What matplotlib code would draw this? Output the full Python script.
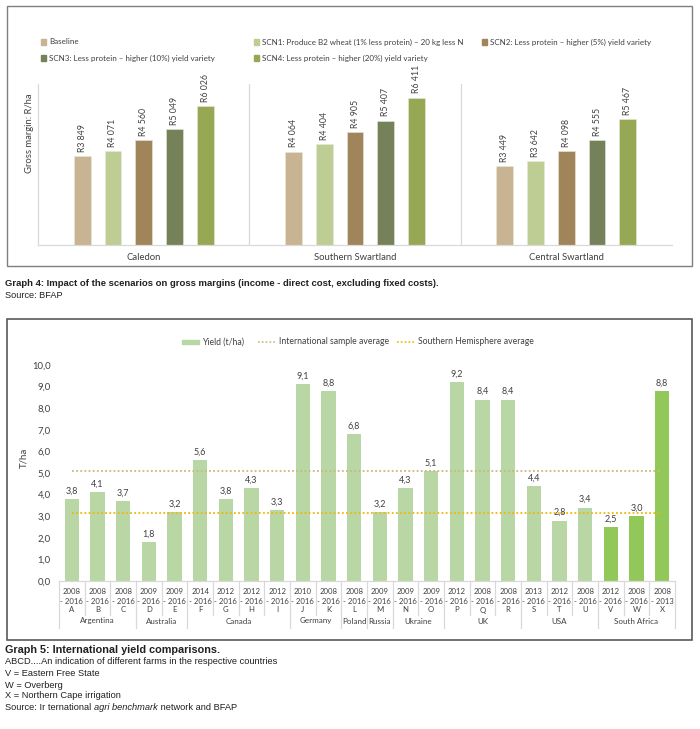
import matplotlib
matplotlib.use("Agg")
import matplotlib.pyplot as plt
from matplotlib.patches import Rectangle
from matplotlib.lines import Line2D

# ---------------- data: graph 4 ----------------
regions = ["Caledon", "Southern Swartland", "Central Swartland"]
scenario_names = [
    "Baseline",
    "SCN1: Produce B2 wheat (1% less protein) \u2013 20 kg less N",
    "SCN2: Less protein \u2013 higher (5%) yield variety",
    "SCN3: Less protein \u2013 higher (10%) yield variety",
    "SCN4: Less protein \u2013 higher (20%) yield variety",
]
baseline = [3849, 4064, 3449]
scn1 = [4071, 4404, 3642]
scn2 = [4560, 4905, 4098]
scn3 = [5049, 5407, 4555]
scn4 = [6026, 6411, 5467]

# ---------------- data: graph 5 ----------------
farms = ["A", "B", "C", "D", "E", "F", "G", "H", "I", "J", "K", "L",
         "M", "N", "O", "P", "Q", "R", "S", "T", "U", "V", "W", "X"]
start_years = ["2008", "2008", "2008", "2009", "2009", "2014", "2012", "2012",
               "2012", "2010", "2008", "2008", "2009", "2009", "2009", "2012",
               "2008", "2008", "2013", "2012", "2008", "2012", "2008", "2008"]
end_years = ["2016", "2016", "2016", "2016", "2016", "2016", "2016", "2016",
             "2016", "2016", "2016", "2016", "2016", "2016", "2016", "2016",
             "2016", "2016", "2016", "2016", "2016", "2016", "2016", "2013"]
countries = ["Argentina", "Australia", "Canada", "Germany", "Poland", "Russia",
             "Ukraine", "UK", "USA", "South Africa"]
farms_per_country = [3, 2, 4, 2, 1, 1, 2, 3, 3, 3]
yields = [3.8, 4.1, 3.7, 1.8, 3.2, 5.6, 3.8, 4.3, 3.3, 9.1, 8.8, 6.8,
          3.2, 4.3, 5.1, 9.2, 8.4, 8.4, 4.4, 2.8, 3.4, 2.5, 3.0, 8.8]
international_avg = 5.1
southern_hemisphere_avg = 3.15
yticks = [0, 1, 2, 3, 4, 5, 6, 7, 8, 9, 10]

# ---------------- styling ----------------
W, H = 700, 729
fig = plt.figure(figsize=(7, 7.29), dpi=100)
fig.patch.set_facecolor("white")

def fx(x):
    return x / W

def fy(y):
    return 1 - y / H

SANS = ["Lato", "DejaVu Sans"]
NARROW = ["Liberation Sans Narrow", "Liberation Sans", "DejaVu Sans"]
TXT = "#404040"
LGRAY = "#d9d9d9"
scen_colors = ["#c8b492", "#becd94", "#a0845a", "#758158", "#96a854"]
LIGHT_GREEN = "#b9d6a5"
SA_GREEN = "#92c85a"
INTL_COLOR = "#c9b97a"
SH_COLOR = "#f2b705"

# frames
fig.patches.append(Rectangle((fx(7), fy(266)), fx(692) - fx(7), fy(6) - fy(266),
                             transform=fig.transFigure, fill=False,
                             edgecolor="#7f7f7f", lw=1.0))
fig.patches.append(Rectangle((fx(7), fy(640)), fx(692) - fx(7), fy(319) - fy(640),
                             transform=fig.transFigure, fill=False,
                             edgecolor="#595959", lw=1.2))

# ================= Graph 4 =================
ax1 = fig.add_axes([fx(38), fy(245), fx(672) - fx(38), fy(84) - fy(245)])
ax1.set_xlim(-0.5, 2.5)
ax1.set_ylim(0, 7000)
for s in ["top", "right"]:
    ax1.spines[s].set_visible(False)
for s in ["left", "bottom"]:
    ax1.spines[s].set_color(LGRAY)
    ax1.spines[s].set_linewidth(0.9)
ax1.set_xticks([])
ax1.set_yticks([])
for xv in [0.5, 1.5]:
    ax1.axvline(xv, color=LGRAY, lw=0.9)

series = [baseline, scn1, scn2, scn3, scn4]
step = 0.1453
bw = 0.08
for i, (vals, col) in enumerate(zip(series, scen_colors)):
    xs = [r + (i - 2) * step for r in range(len(regions))]
    ax1.bar(xs, vals, bw, color=col, edgecolor="#e8e8d8", linewidth=0.4)
    for xv, v in zip(xs, vals):
        ax1.annotate(f"R{v // 1000} {v % 1000:03d}", xy=(xv, v), xytext=(0, 3),
                     textcoords="offset points", rotation=90, ha="center",
                     va="bottom", fontsize=6.3, color=TXT, family=SANS)

tr1 = ax1.get_xaxis_transform()
def ay1(y):
    return (245 - y) / (245 - 84)
for r, name in enumerate(regions):
    ax1.text(r, ay1(257), name, transform=tr1, ha="center", va="center",
             fontsize=6.8, color=TXT, family=SANS, clip_on=False)

fig.text(fx(30), fy(133), "Gross margin: R/ha", rotation=90, ha="center",
         va="center", fontsize=6.8, color=TXT, family=SANS)

# legend graph 4
leg_pos = [(41, 42), (254, 42), (482, 42), (41, 58), (254, 58)]
for (lx, ly), name, col in zip(leg_pos, scenario_names, scen_colors):
    fig.patches.append(Rectangle((fx(lx), fy(ly + 2.5)), 5 / W, 5 / H,
                                 transform=fig.transFigure, color=col))
    fig.text(fx(lx + 8), fy(ly), name, ha="left", va="center", fontsize=5.8,
             color=TXT, family=SANS)

# caption graph 4
fig.text(fx(5), fy(284),
         "Graph 4: Impact of the scenarios on gross margins (income - direct cost, excluding fixed costs).",
         ha="left", va="center", fontsize=6.8, weight="bold", color="#231f20",
         family=NARROW)
fig.text(fx(5), fy(295), "Source: BFAP", ha="left", va="center", fontsize=6.6,
         color="#231f20", family=NARROW)

# ================= Graph 5 =================
ax2 = fig.add_axes([fx(59), fy(581), fx(675) - fx(59), fy(365) - fy(581)])
n = len(farms)
ax2.set_xlim(-0.5, n - 0.5)
ax2.set_ylim(0, 10)
for s in ["top", "right", "left"]:
    ax2.spines[s].set_visible(False)
ax2.spines["bottom"].set_color(LGRAY)
ax2.spines["bottom"].set_linewidth(0.9)
ax2.set_yticks(yticks)
ax2.set_yticklabels([f"{t:.1f}".replace(".", ",") for t in yticks],
                    fontsize=6.8, color=TXT, family=SANS)
ax2.tick_params(axis="y", length=0, pad=6)
ax2.set_xticks([])

farm_country = []
for c, k in zip(countries, farms_per_country):
    farm_country += [c] * k
bar_colors = [SA_GREEN if c == "South Africa" else LIGHT_GREEN for c in farm_country]
xs2 = list(range(n))
ax2.bar(xs2, yields, 0.57, color=bar_colors, zorder=2)
for xv, v in zip(xs2, yields):
    ax2.annotate(f"{v:.1f}".replace(".", ","), xy=(xv, v), xytext=(0, 2.5),
                 textcoords="offset points", ha="center", va="bottom",
                 fontsize=6.5, color=TXT, family=SANS)

ax2.plot([0, n - 1], [international_avg] * 2, ls=(0, (1, 1.3)), lw=1.3,
         color=INTL_COLOR, zorder=3)
ax2.plot([0, n - 1], [southern_hemisphere_avg] * 2, ls=(0, (1, 1.3)), lw=1.3,
         color=SH_COLOR, zorder=3)

tr2 = ax2.get_xaxis_transform()
def ay2(y):
    return (581 - y) / (581 - 365)
for i in range(n):
    ax2.text(i, ay2(591), start_years[i], transform=tr2, ha="center",
             va="center", fontsize=5.6, color=TXT, family=SANS, clip_on=False)
    ax2.text(i, ay2(601), "- " + end_years[i], transform=tr2, ha="center",
             va="center", fontsize=5.6, color=TXT, family=SANS, clip_on=False)
    ax2.text(i, ay2(610), farms[i], transform=tr2, ha="center", va="center",
             fontsize=5.6, color=TXT, family=SANS, clip_on=False)

group_edges = [0]
for k in farms_per_country:
    group_edges.append(group_edges[-1] + k)
for b in range(n + 1):
    bottom = 628 if b in group_edges else 615
    ax2.add_line(Line2D([b - 0.5, b - 0.5], [ay2(581), ay2(bottom)],
                        transform=tr2, color=LGRAY, lw=0.9, clip_on=False))
for gi, c in enumerate(countries):
    center = (group_edges[gi] + group_edges[gi + 1] - 1) / 2
    ax2.text(center, ay2(621), c, transform=tr2, ha="center", va="center",
             fontsize=5.8, color=TXT, family=SANS, clip_on=False)

fig.text(fx(24), fy(458), "T/ha", rotation=90, ha="center", va="center",
         fontsize=7, color=TXT, family=SANS)

# legend graph 5
fig.patches.append(Rectangle((fx(182), fy(344)), 17 / W, 4 / H,
                             transform=fig.transFigure, color=LIGHT_GREEN))
fig.text(fx(202), fy(342), "Yield (t/ha)", ha="left", va="center",
         fontsize=6.2, color=TXT, family=SANS)
fig.lines.append(Line2D([fx(258), fx(275)], [fy(342), fy(342)],
                        transform=fig.transFigure, color=INTL_COLOR, lw=1.2,
                        ls=(0, (1, 1.3))))
fig.text(fx(279), fy(342), "International sample average", ha="left",
         va="center", fontsize=6.2, color=TXT, family=SANS)
fig.lines.append(Line2D([fx(397), fx(415)], [fy(342), fy(342)],
                        transform=fig.transFigure, color=SH_COLOR, lw=1.2,
                        ls=(0, (1, 1.3))))
fig.text(fx(418), fy(342), "Southern Hemisphere average", ha="left",
         va="center", fontsize=6.2, color=TXT, family=SANS)

# captions graph 5
CAP = "#231f20"
fig.text(fx(5), fy(650), "Graph 5: International yield comparisons.", ha="left",
         va="center", fontsize=7.8, weight="bold", color=CAP, family=NARROW)
cap_lines = [
    (662, "ABCD....An indication of different farms in the respective countries"),
    (674, "V = Eastern Free State"),
    (685, "W = Overberg"),
    (696, "X = Northern Cape irrigation"),
]
for yy, t in cap_lines:
    fig.text(fx(5), fy(yy), t, ha="left", va="center", fontsize=6.7, color=CAP,
             family=NARROW)

renderer = fig.canvas.get_renderer()
parts = [("Source: Ir ternational ", "normal"), ("agri benchmark", "italic"),
         (" network and BFAP", "normal")]
xcur = fx(5)
for t, st in parts:
    tt = fig.text(xcur, fy(707), t, ha="left", va="center", fontsize=6.7,
                  color=CAP, family=NARROW, style=st)
    bb = tt.get_window_extent(renderer=renderer)
    xcur += bb.width / (fig.dpi * fig.get_figwidth())

fig.savefig("out.png", dpi=100, facecolor="white")
